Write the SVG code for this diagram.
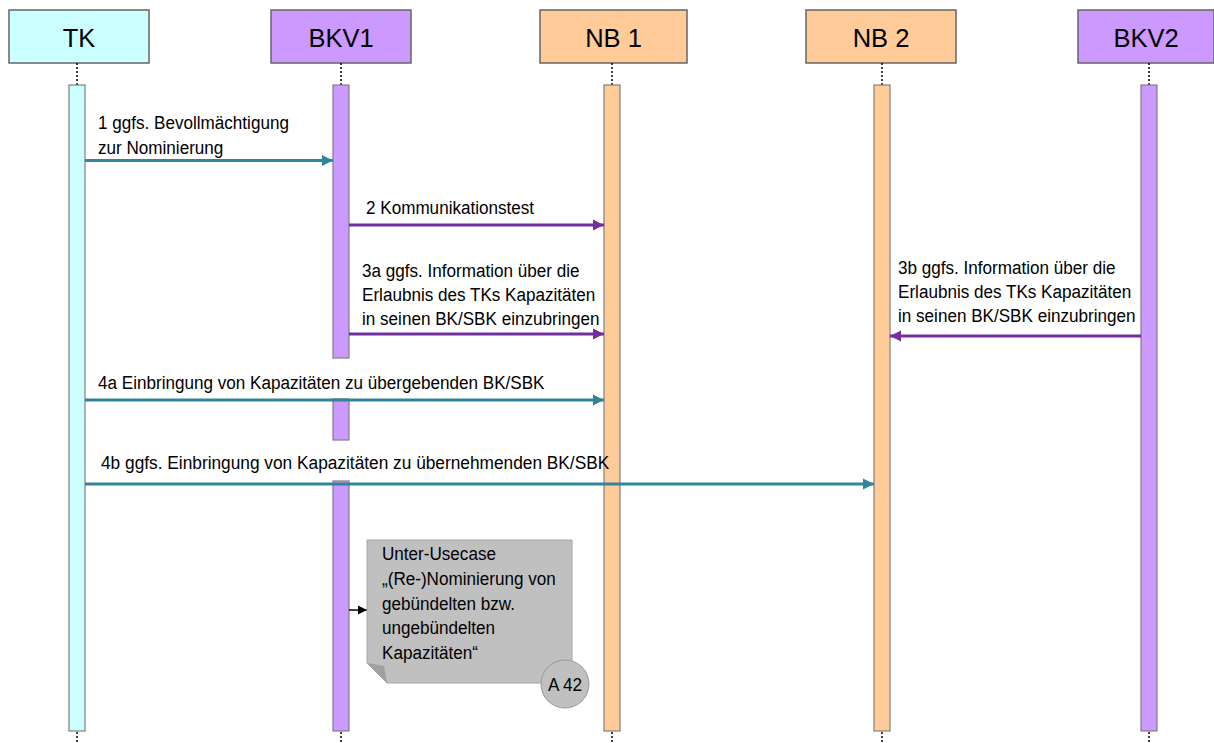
<svg xmlns="http://www.w3.org/2000/svg" width="1214" height="743" viewBox="0 0 1214 743">
  <defs>
    <style>
      .head { stroke: #666666; stroke-width: 1.5; }
      .head-text { font-family: "Liberation Sans", Arial, sans-serif; font-size: 25.5px; fill: #000; text-anchor: middle; }
      .bar { stroke: #7f7f7f; stroke-width: 1.2; }
      .life { stroke: #000; stroke-width: 1.5; stroke-dasharray: 2 2; fill: none; }
      .cyan { fill: #CCFFFF; }
      .violet { fill: #CC99FF; }
      .orange { fill: #FFCC99; }
      .label { font-family: "Liberation Sans", Arial, sans-serif; font-size: 19px; fill: #000; }
      .msg-teal { stroke: #31849B; stroke-width: 3; fill: none; marker-end: url(#head-teal); }
      .msg-violet { stroke: #7030A0; stroke-width: 3; fill: none; marker-end: url(#head-violet); }
      .msg-black { stroke: #000; stroke-width: 1.5; fill: none; marker-end: url(#head-black); }
    </style>
    <marker id="head-teal" markerUnits="userSpaceOnUse" markerWidth="12" markerHeight="12" refX="11" refY="6" orient="auto">
      <path d="M0,0.5 L11,6 L0,11.5 Z" fill="#31849B"/>
    </marker>
    <marker id="head-violet" markerUnits="userSpaceOnUse" markerWidth="12" markerHeight="12" refX="11" refY="6" orient="auto">
      <path d="M0,0.5 L11,6 L0,11.5 Z" fill="#7030A0"/>
    </marker>
    <marker id="head-black" markerUnits="userSpaceOnUse" markerWidth="10" markerHeight="10" refX="9" refY="5" orient="auto">
      <path d="M0,0.5 L9,5 L0,9.5 Z" fill="#000"/>
    </marker>
  </defs>

  <rect width="1214" height="743" fill="#ffffff"/>

  <!-- participant TK -->
  <g id="tk">
    <rect class="head cyan" x="9" y="10" width="140" height="53"/>
    <text class="head-text" x="79" y="46.5">TK</text>
    <line class="life" x1="77" y1="63" x2="77" y2="85"/>
    <rect class="bar cyan" x="69" y="85" width="16" height="646"/>
    <line class="life" x1="77" y1="732" x2="77" y2="743"/>
  </g>

  <!-- participant BKV1 -->
  <g id="bkv1">
    <rect class="head violet" x="271" y="10" width="140" height="53"/>
    <text class="head-text" x="341" y="46.5">BKV1</text>
    <line class="life" x1="341" y1="63" x2="341" y2="85"/>
    <rect class="bar violet" x="333" y="85" width="16" height="273"/>
    <rect class="bar violet" x="333" y="399" width="16" height="41"/>
    <rect class="bar violet" x="333" y="481" width="16" height="250"/>
    <line class="life" x1="341" y1="732" x2="341" y2="743"/>
  </g>

  <!-- participant NB 1 -->
  <g id="nb1">
    <rect class="head orange" x="540" y="10" width="147" height="53"/>
    <text class="head-text" x="613.5" y="46.5">NB 1</text>
    <line class="life" x1="612" y1="63" x2="612" y2="85"/>
    <rect class="bar orange" x="604" y="85" width="16" height="646"/>
    <line class="life" x1="612" y1="732" x2="612" y2="743"/>
  </g>

  <!-- participant NB 2 -->
  <g id="nb2">
    <rect class="head orange" x="806" y="10" width="150" height="53"/>
    <text class="head-text" x="881" y="46.5">NB 2</text>
    <line class="life" x1="882" y1="63" x2="882" y2="85"/>
    <rect class="bar orange" x="874" y="85" width="16" height="646"/>
    <line class="life" x1="882" y1="732" x2="882" y2="743"/>
  </g>

  <!-- participant BKV2 -->
  <g id="bkv2">
    <rect class="head violet" x="1078" y="10" width="136" height="53"/>
    <text class="head-text" x="1146" y="46.5">BKV2</text>
    <line class="life" x1="1149" y1="63" x2="1149" y2="85"/>
    <rect class="bar violet" x="1141" y="85" width="16" height="646"/>
    <line class="life" x1="1149" y1="732" x2="1149" y2="743"/>
  </g>

  <!-- messages -->
  <g id="connectors">
    <line class="msg-teal" x1="85" y1="160.5" x2="333" y2="160.5"/>
    <line class="msg-violet" x1="349" y1="225" x2="604" y2="225"/>
    <line class="msg-violet" x1="349" y1="334" x2="604" y2="334"/>
    <line class="msg-violet" x1="1141" y1="336" x2="890" y2="336"/>
    <line class="msg-teal" x1="85" y1="400" x2="604" y2="400"/>
    <line class="msg-teal" x1="85" y1="484" x2="874" y2="484"/>
    <line class="msg-black" x1="349" y1="610" x2="367" y2="610"/>
  </g>

  <!-- message labels (narrow set: tall glyphs, compressed width) -->
  <g id="labels">
    <text class="label" transform="translate(98,128.5) scale(0.9,1)">1 ggfs. Bevollmächtigung</text>
    <text class="label" transform="translate(98,153.5) scale(0.9,1)">zur Nominierung</text>
    <text class="label" transform="translate(366,213.5) scale(0.9,1)">2 Kommunikationstest</text>
    <text class="label" transform="translate(362,276.5) scale(0.9,1)">3a ggfs. Information über die</text>
    <text class="label" transform="translate(362,300.5) scale(0.9,1)">Erlaubnis des TKs Kapazitäten</text>
    <text class="label" transform="translate(362,324.5) scale(0.9,1)">in seinen BK/SBK einzubringen</text>
    <text class="label" transform="translate(898,273.5) scale(0.9,1)">3b ggfs. Information über die</text>
    <text class="label" transform="translate(898,297.5) scale(0.9,1)">Erlaubnis des TKs Kapazitäten</text>
    <text class="label" transform="translate(898,321.5) scale(0.9,1)">in seinen BK/SBK einzubringen</text>
    <text class="label" transform="translate(98,388.5) scale(0.9,1)">4a Einbringung von Kapazitäten zu übergebenden BK/SBK</text>
    <text class="label" transform="translate(101,468.5) scale(0.91,1)">4b ggfs. Einbringung von Kapazitäten zu übernehmenden BK/SBK</text>
  </g>

  <!-- sub use case note -->
  <g id="note-a42">
    <path d="M367,540 H572 V683 H387 L367,663 Z" fill="#C0C0C0" stroke="#A6A6A6" stroke-width="1"/>
    <path d="M367,663 L387,683 L384,666 Z" fill="#A0A0A0"/>
    <text class="label" transform="translate(382,559.5) scale(0.9,1)">Unter-Usecase</text>
    <text class="label" transform="translate(382,584.5) scale(0.9,1)">„(Re-)Nominierung von</text>
    <text class="label" transform="translate(382,609.5) scale(0.9,1)">gebündelten bzw.</text>
    <text class="label" transform="translate(382,634) scale(0.9,1)">ungebündelten</text>
    <text class="label" transform="translate(382,658.5) scale(0.9,1)">Kapazitäten“</text>
    <circle cx="565" cy="684" r="24" fill="#C0C0C0" stroke="#999999" stroke-width="1"/>
    <text class="label" text-anchor="middle" transform="translate(565,690.5) scale(0.9,1)">A 42</text>
  </g>
</svg>
